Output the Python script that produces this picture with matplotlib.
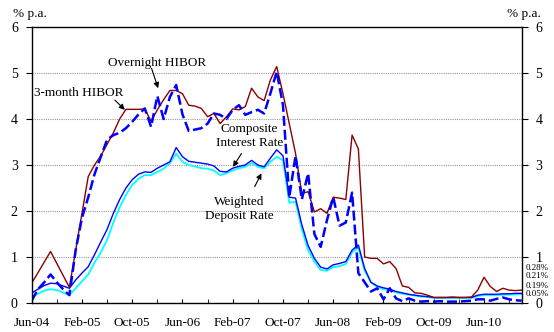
import numpy as np
import pandas as pd
import matplotlib
matplotlib.use("Agg")
import matplotlib.pyplot as plt

plt.rcParams['font.family'] = ['Liberation Serif', 'DejaVu Serif']

# monthly data, Jun-04 .. Dec-10 (% p.a.)
months = pd.date_range("2004-06-01", periods=79, freq="MS")

hibor_3m = [0.43, 0.66, 0.89, 1.12, 0.86, 0.60, 0.34, 1.15, 1.95, 2.75,
            3.00, 3.20, 3.45, 3.70, 4.00, 4.21, 4.21, 4.21, 4.22, 3.95,
            4.20, 4.42, 4.62, 4.62, 4.55, 4.30, 4.28, 4.23, 4.05, 4.12,
            3.90, 4.05, 4.22, 4.20, 4.27, 4.67, 4.48, 4.40, 4.85, 5.14,
            4.55, 3.90, 3.25, 2.38, 2.42, 1.98, 2.05, 1.95, 2.30, 2.28,
            2.25, 3.65, 3.35, 1.00, 0.97, 0.97, 0.85, 0.90, 0.75, 0.37,
            0.34, 0.22, 0.21, 0.17, 0.12, 0.12, 0.12, 0.13, 0.12, 0.12,
            0.13, 0.28, 0.56, 0.36, 0.25, 0.32, 0.28, 0.27, 0.28]

hibor_on = [0.05, 0.30, 0.45, 0.62, 0.45, 0.30, 0.17, 1.15, 1.85, 2.30,
            2.80, 3.18, 3.55, 3.65, 3.70, 3.80, 3.94, 4.10, 4.23, 3.83,
            4.50, 4.00, 4.48, 4.74, 4.10, 3.74, 3.77, 3.80, 3.90, 4.12,
            4.09, 4.00, 4.20, 4.30, 4.09, 4.15, 4.20, 4.12, 4.56, 5.03,
            4.30, 2.30, 3.20, 2.25, 2.82, 1.50, 1.22, 1.80, 2.30, 1.68,
            1.75, 2.40, 0.65, 0.45, 0.25, 0.32, 0.08, 0.32, 0.10, 0.04,
            0.10, 0.05, 0.03, 0.04, 0.03, 0.04, 0.03, 0.03, 0.03, 0.04,
            0.05, 0.08, 0.08, 0.05, 0.09, 0.12, 0.08, 0.06, 0.05]

composite = [0.22, 0.30, 0.38, 0.43, 0.42, 0.37, 0.32, 0.50, 0.65, 0.79,
             1.05, 1.33, 1.60, 1.95, 2.25, 2.50, 2.68, 2.80, 2.85, 2.84,
             2.93, 3.00, 3.07, 3.38, 3.18, 3.08, 3.06, 3.04, 3.02, 2.98,
             2.86, 2.85, 2.93, 2.97, 3.00, 3.10, 3.00, 2.96, 3.15, 3.33,
             3.20, 2.30, 2.28, 1.70, 1.25, 0.97, 0.78, 0.74, 0.83, 0.86,
             0.90, 1.15, 1.26, 0.75, 0.45, 0.37, 0.33, 0.30, 0.25, 0.22,
             0.19, 0.17, 0.15, 0.14, 0.12, 0.12, 0.12, 0.12, 0.12, 0.12,
             0.12, 0.17, 0.19, 0.19, 0.19, 0.20, 0.20, 0.21, 0.21]

deposit = [0.14, 0.20, 0.27, 0.30, 0.28, 0.23, 0.17, 0.32, 0.47, 0.62,
           0.88, 1.10, 1.37, 1.75, 2.08, 2.35, 2.57, 2.70, 2.78, 2.78,
           2.85, 2.92, 3.04, 3.25, 3.07, 3.00, 2.97, 2.93, 2.92, 2.88,
           2.78, 2.82, 2.88, 2.93, 2.96, 3.04, 2.96, 2.93, 3.07, 3.18,
           3.10, 2.18, 2.20, 1.60, 1.15, 0.90, 0.72, 0.70, 0.78, 0.80,
           0.85, 1.10, 1.20, 0.70, 0.45, 0.35, 0.30, 0.28, 0.23, 0.20,
           0.18, 0.16, 0.14, 0.13, 0.11, 0.11, 0.11, 0.11, 0.11, 0.11,
           0.11, 0.15, 0.17, 0.17, 0.17, 0.18, 0.18, 0.19, 0.19]

end_labels = ["0.28%", "0.21%", "0.19%", "0.05%"]

x = np.arange(len(months))
tick_labels = [m.strftime("%b-%y") for m in months]

fig = plt.figure(figsize=(5.54, 3.32), dpi=100)
ax = fig.add_axes([31.7 / 554, 29 / 332, 490 / 554, 276 / 332])

ax.plot(x, deposit, color="#00ffff", lw=1.3)
ax.plot(x, composite, color="#0000ff", lw=1.0)
ax.plot(x, hibor_3m, color="#8b0000", lw=1.0)
ax.plot(x, hibor_on, color="#0000ff", lw=1.8, dashes=(4, 1.6))

ax.set_xlim(0, len(x) - 1)
ax.set_ylim(0, 6)
ax.set_yticks(range(7))
ax.yaxis.set_ticks_position("both")
ax.tick_params(axis="y", direction="out", length=4, labelsize=10, labelright=True, pad=6)
ax.set_xticks(x[::8])
ax.set_xticklabels(tick_labels[::8])
ax.set_xticks(x[::4], minor=True)
ax.tick_params(axis="x", which="both", direction="in", length=3, labelsize=9.5, pad=10)
for yv in range(1, 6):
    ax.axhline(yv, color="#999999", lw=0.8, ls=(0, (1, 1)), zorder=0)
for s in ax.spines.values():
    s.set_linewidth(1.0)

fig.text(13 / 554, 1 - 14 / 332, "% p.a.", fontsize=9.5, va="center")
fig.text(507 / 554, 1 - 14 / 332, "% p.a.", fontsize=9.5, va="center")

# callout texts and arrows
arrow = dict(arrowstyle="-|>", color="black", lw=0.8, mutation_scale=8, shrinkA=0, shrinkB=0)
ax.text(19.9, 5.22, "Overnight HIBOR", ha="center", va="center", fontsize=9.5)
ax.annotate("", xy=(20.13, 4.67), xytext=(19.08, 5.10), arrowprops=arrow)
ax.text(7.5, 4.57, "3-month HIBOR", ha="center", va="center", fontsize=9.5)
ax.annotate("", xy=(14.83, 4.20), xytext=(13.24, 4.41), arrowprops=arrow)
ax.text(34.7, 3.63, "Composite\nInterest Rate", ha="center", va="center",
        fontsize=9.5, linespacing=1.15)
ax.annotate("", xy=(32.05, 2.96), xytext=(33.39, 3.25), arrowprops=arrow)
ax.text(33.1, 2.04, "Weighted\nDeposit Rate", ha="center", va="center",
        fontsize=9.5, linespacing=1.15)
ax.annotate("", xy=(36.57, 2.82), xytext=(35.5, 2.53), arrowprops=arrow)

for lab, yp in zip(end_labels, [267.5, 276.5, 285.5, 294.5]):
    ax.text(1.009, (303 - yp) / 276, lab, transform=ax.transAxes,
            fontsize=6.5, va="center", ha="left", clip_on=False)

fig.savefig("out.png", dpi=100)
